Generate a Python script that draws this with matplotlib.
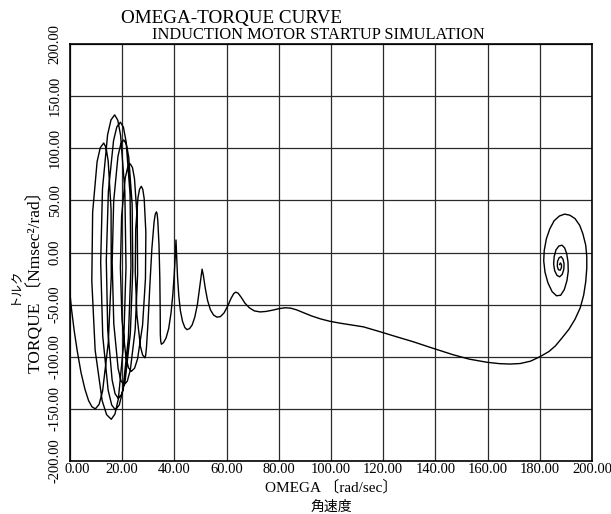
import matplotlib
matplotlib.use("Agg")
import matplotlib.pyplot as plt
from matplotlib.transforms import ScaledTranslation

# Rotor speed (rad/sec) along the startup trajectory
omega = [
    # initial swing
    0.0, 0.6, 1.6, 2.8, 4.2, 5.7, 7.1, 8.4, 9.7,
    # large oscillation loops
    11.14, 12.48, 14.67, 15.8, 15.73, 14.62, 13.8, 12.9,
    11.59, 10.38, 8.67, 8.35, 9.63, 12.32, 14.01, 15.8,
    17.21, 18.52, 20.56, 21.45, 21.0, 19.38, 18.29, 17.1,
    15.7, 14.4, 12.44, 11.75, 12.54, 14.6, 15.96, 17.4,
    18.86, 20.22, 22.36, 23.35, 23.0, 21.48, 20.44, 19.3,
    17.93, 16.67, 14.7, 13.9, 14.44, 16.13, 17.27, 18.5,
    19.84, 21.1, 23.1, 24.05, 23.8, 22.5, 21.6, 20.6,
    19.44, 18.37, 16.73, 16.15, 16.77, 18.43, 19.52, 20.7,
    21.94, 23.1, 24.96, 25.9, 25.76, 24.7, 23.94, 23.1,
    22.09, 21.17, 19.77, 19.3, 19.91, 21.43, 22.43, 23.5,
    24.73, 25.88, 27.8, 28.9, 29.06, 28.42, 27.89, 27.3,
    26.64, 26.03, 25.17, 25.0, 25.63, 26.97, 27.8, 28.7,
    28.99, 29.28, 29.91, 30.6, 31.37, 32.22, 32.65, 33.1,
    33.38, 33.63, 34.09, 34.4, 34.55, 34.6, 34.75, 35.0,
    # decaying ripples
    35.8, 36.8, 37.8, 38.7, 39.4, 39.9, 40.3, 40.6,
    40.9, 41.2, 41.7, 42.3, 43.1, 44.0, 44.8,
    45.8, 46.8, 47.8, 48.8, 49.6, 50.2, 50.6,
    51.1, 51.8, 52.7, 53.8, 55.0, 56.3,
    57.6, 59.0, 60.4, 61.7, 62.7, 63.5,
    64.4, 65.6, 67.0, 68.7, 70.6, 72.8,
    75.2, 77.8, 80.2, 82.4, 84.6, 86.8, 89.5, 92.5, 96.0, 99.6,
    103.5, 107.3, 112.4, 118.8, 125.2, 131.5, 138.0, 146.7, 153.0, 159.8,
    164.5, 168.6, 172.5, 176.5, 180.0, 183.5, 186.0, 188.5, 191.2, 193.5,
    195.5, 196.8, 197.6, 198.0, 198.0, 197.6, 196.5, 195.3, 193.5, 191.5,
    # settling spiral
    189.5, 187.5, 185.5, 183.8, 182.5, 181.7, 181.5, 182.0, 183.1, 184.7,
    186.4, 188.0, 189.4, 190.4, 190.9, 190.8, 190.3, 189.5, 188.5, 187.3,
    186.2, 185.5, 185.3, 185.7, 186.6, 187.6, 188.6, 189.2, 189.3, 188.9,
    188.2, 187.4, 186.8, 186.7, 187.1, 187.8, 188.3, 188.3, 187.9, 187.6,
]

# Torque (Nmsec^2/rad) at the same instants
torque = [
    -40.0, -55.0, -75.0, -95.0, -115.0, -131.0, -142.0, -148.0, -150.0,
    -145.7, -132.9, -86.2, -22.5, 41.3, 87.9, 100.7, 105.0,
    100.5, 87.2, 38.7, -27.5, -93.8, -142.2, -155.5, -160.0,
    -155.0, -140.4, -87.0, -14.0, 59.0, 112.4, 127.0, 132.0,
    127.2, 113.0, 61.2, -9.5, -80.3, -132.0, -146.2, -151.0,
    -146.3, -132.5, -82.0, -13.0, 56.0, 106.5, 120.3, 125.0,
    120.5, 107.2, 58.7, -7.5, -73.8, -122.2, -135.5, -140.0,
    -135.8, -123.4, -78.0, -16.0, 46.0, 91.4, 103.8, 108.0,
    104.0, 92.3, 49.2, -9.5, -68.3, -111.3, -123.0, -127.0,
    -123.4, -112.8, -74.0, -21.0, 32.0, 70.8, 81.4, 85.0,
    81.6, 71.7, 35.2, -14.5, -64.3, -100.7, -110.6, -114.0,
    -111.0, -102.1, -69.6, -25.3, 19.1, 51.6, 60.5, 63.5,
    60.7, 52.5, 22.4, -18.75, -59.9, -90.0, -98.2, -101.0,
    -98.6, -91.6, -66.0, -31.0, 4.0, 29.6, 36.6, 39.0,
    36.9, 30.6, 7.5, -24.0, -55.5, -78.6, -85.0, -88.0,
    -86.5, -82.0, -73.0, -58.0, -40.0, -22.0, -5.0, 12.0,
    -5.0, -24.0, -42.0, -56.0, -66.0, -72.0, -74.0,
    -73.0, -69.5, -62.0, -50.0, -35.0, -23.0, -16.0,
    -22.0, -34.0, -46.0, -55.0, -60.0, -62.0,
    -61.5, -58.0, -51.5, -44.0, -39.5, -38.0,
    -39.0, -43.0, -48.5, -53.0, -56.0, -57.0,
    -56.5, -55.2, -53.8, -53.0, -53.4, -55.0, -57.8, -60.8, -63.7, -66.0,
    -67.8, -69.3, -71.3, -76.0, -80.9, -85.6, -91.0, -98.0, -102.3, -105.3,
    -106.6, -107.0, -106.5, -104.2, -100.0, -95.0, -89.5, -82.0, -73.5, -64.0,
    -53.0, -41.0, -28.0, -15.0, -4.0, 7.0, 18.0, 26.0, 32.5, 35.8,
    36.8, 35.0, 30.5, 22.5, 13.0, 2.0, -8.0, -19.0, -29.0, -37.5,
    -41.5, -41.0, -35.5, -27.0, -18.0, -9.0, -1.0, 4.5, 7.0, 6.2,
    2.5, -4.0, -11.0, -17.5, -22.0, -23.3, -21.0, -16.0, -11.0, -6.5,
    -4.0, -5.0, -8.5, -13.0, -16.5, -17.0, -14.5, -11.5, -10.0, -11.5,
]

x_ticks = [0, 20, 40, 60, 80, 100, 120, 140, 160, 180, 200]
y_ticks = [-200, -150, -100, -50, 0, 50, 100, 150, 200]

title = "OMEGA-TORQUE CURVE"
subtitle = "INDUCTION MOTOR STARTUP SIMULATION"
x_label = "OMEGA 〔rad/sec〕"
x_label_jp = "角速度"
y_label = "TORQUE 〔Nmsec²/rad〕"
y_label_jp = "トルク"

serif = ["Liberation Serif", "Noto Sans CJK JP"]
plt.rcParams["font.family"] = serif

fig = plt.figure(figsize=(6.11, 5.14), dpi=100)
ax = fig.add_axes([0.1146, 0.1031, 0.8543, 0.8113])

ax.plot(omega, torque, color="black", lw=1.0, solid_joinstyle="round", zorder=3)

ax.set_xlim(0, 200)
ax.set_ylim(-200, 200)
ax.set_xticks(x_ticks)
ax.set_yticks(y_ticks)
ax.set_xticklabels([f"{v:.2f}" for v in x_ticks], fontsize=10.5)
ax.set_yticklabels([f"{v:.2f}" for v in y_ticks], fontsize=10.5,
                   rotation=90, va="center")
ax.tick_params(length=0)
ax.tick_params(axis="x", pad=1.5)
ax.tick_params(axis="y", pad=6)
ax.grid(True, color="#2a2a2a", lw=0.9)
for sp in ax.spines.values():
    sp.set_linewidth(1.2)
    sp.set_color("black")

# nudge the first omega label right so it clears the lowest torque label
first_label = ax.get_xticklabels()[0]
first_label.set_transform(first_label.get_transform()
                          + ScaledTranslation(7 / 100, 0, fig.dpi_scale_trans))

fig.text(0.379, 0.955, title, ha="center", va="baseline", fontsize=13.8)
fig.text(0.521, 0.924, subtitle, ha="center", va="baseline", fontsize=11.8)
fig.text(0.542, 0.044, x_label, ha="center", va="baseline", fontsize=11,
         family=serif)
fig.text(0.543, 0.006, x_label_jp, ha="center", va="baseline", fontsize=10,
         family=["Noto Sans CJK JP"])
fig.text(0.058, 0.46, y_label, ha="center", va="center", rotation=90,
         fontsize=12.5, family=serif)
fig.text(0.022, 0.445, y_label_jp, ha="center", va="center", rotation=90,
         fontsize=9, family=["Noto Sans CJK JP"])

fig.savefig("out.png", dpi=100)
